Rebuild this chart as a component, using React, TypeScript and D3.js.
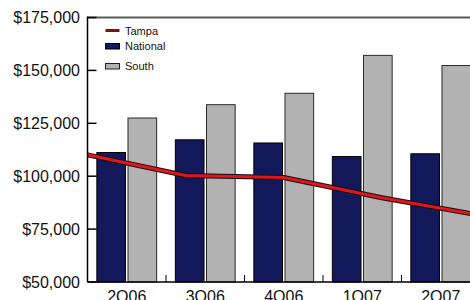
import { useMemo } from "react";
import * as d3 from "d3";

const quarters = ["2Q06", "3Q06", "4Q06", "1Q07", "2Q07"];
const nationalPrices = [111200, 117200, 115700, 109300, 110600];
const southPrices = [127500, 133800, 139200, 157100, 152300];
const tampaPrices = [110100, 100300, 99400, 89800, 81500];
const yTicks = [50000, 75000, 100000, 125000, 150000, 175000];

const W = 470;
const H = 300;
const left = 87.5;
const right = 480;
const top = 17.5;
const bottom = 282;
const font = "'Liberation Sans', Arial, sans-serif";

const navy = "#12185a";
const gray = "#b2b2b2";
const red = "#e3141c";

export default function App() {
  const { x, x1, xLine, y, tampaPath } = useMemo(() => {
    const x = d3.scaleBand<string>().domain(quarters).range([left, right]);
    const x1 = d3
      .scaleBand<string>()
      .domain(["National", "South"])
      .range([0, x.bandwidth()])
      .paddingInner(0.08)
      .paddingOuter(0.3);
    const xLine = d3.scalePoint<string>().domain(quarters).range([left, right]);
    const y = d3.scaleLinear().domain([50000, 175000]).range([bottom, top]);
    const line = d3
      .line<number>()
      .x((_d, i) => xLine(quarters[i]) ?? 0)
      .y((d) => y(d));
    return { x, x1, xLine, y, tampaPath: line(tampaPrices) ?? "" };
  }, []);

  const fmt = (v: number) => "$" + d3.format(",")(v);

  return (
    <svg
      width={W}
      height={H}
      style={{ position: "absolute", left: 0, top: 0, background: "#fff" }}
      fontFamily={font}
    >
      {/* bars */}
      {quarters.map((q, i) => (
        <g key={q} transform={`translate(${x(q)},0)`}>
          <rect
            x={x1("National")}
            y={y(nationalPrices[i])}
            width={x1.bandwidth()}
            height={bottom - y(nationalPrices[i])}
            fill={navy}
            stroke="#000"
            strokeWidth={1}
          />
          <rect
            x={x1("South")}
            y={y(southPrices[i])}
            width={x1.bandwidth()}
            height={bottom - y(southPrices[i])}
            fill={gray}
            stroke="#2a2a2a"
            strokeWidth={1}
          />
        </g>
      ))}

      {/* Tampa line */}
      <path d={tampaPath} fill="none" stroke="#111" strokeWidth={5} strokeLinejoin="round" />
      <path d={tampaPath} fill="none" stroke={red} strokeWidth={3} strokeLinejoin="round" />

      {/* frame and axes */}
      <line x1={left} x2={right} y1={top} y2={top} stroke="#5a5a5a" strokeWidth={2} />
      <line x1={left} x2={left} y1={top - 1} y2={bottom} stroke="#000" strokeWidth={1.5} />
      <line x1={left} x2={right} y1={bottom} y2={bottom} stroke="#000" strokeWidth={1.5} />

      {yTicks.map((t) => (
        <g key={t}>
          <line x1={left} x2={left + 9} y1={y(t)} y2={y(t)} stroke="#000" strokeWidth={1.5} />
          <text
            x={80}
            y={y(t)}
            dy="0.36em"
            textAnchor="end"
            fontSize={16}
            fill="#111"
          >
            {fmt(t)}
          </text>
        </g>
      ))}

      {quarters.map((q) => (
        <g key={q}>
          <line
            x1={(x(q) ?? 0) + x.bandwidth()}
            x2={(x(q) ?? 0) + x.bandwidth()}
            y1={bottom}
            y2={bottom - 7}
            stroke="#000"
            strokeWidth={1}
          />
          <text
            x={(x(q) ?? 0) + x.bandwidth() / 2}
            y={301.5}
            textAnchor="middle"
            fontSize={16}
            fill="#111"
          >
            {q}
          </text>
        </g>
      ))}

      {/* legend */}
      <g fontSize={11} fill="#111">
        <line x1={105.5} x2={119.5} y1={30.5} y2={30.5} stroke="#7a1418" strokeWidth={3} />
        <text x={125} y={32} dy="0.3em">Tampa</text>
        <rect x={105.5} y={43.5} width={14} height={5.5} fill={navy} stroke="#000" strokeWidth={1} />
        <text x={125} y={47} dy="0.3em">National</text>
        <rect x={105.5} y={63.5} width={14} height={5.5} fill={gray} stroke="#222" strokeWidth={1} />
        <text x={125} y={66.5} dy="0.3em">South</text>
      </g>
    </svg>
  );
}
